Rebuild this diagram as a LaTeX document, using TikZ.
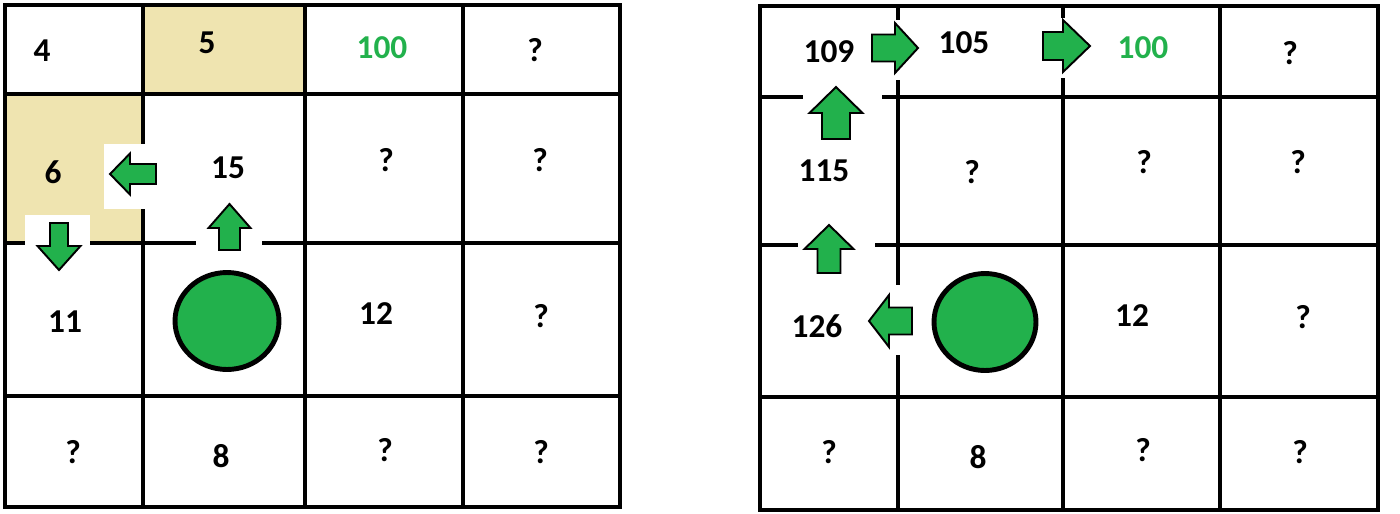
\documentclass[tikz,border=0pt]{standalone}
\usepackage{fontspec}
\setmainfont{Carlito}
\usetikzlibrary{positioning}
\definecolor{agentgreen}{RGB}{34,177,76}
\definecolor{visited}{RGB}{239,228,176}

\tikzset{
  gridline/.style={line width=2.8pt, line cap=rect},
  val/.style={font=\fontsize{19}{22}\selectfont\bfseries, inner sep=0pt},
  goal/.style={val, text=agentgreen},
  gap/.style={fill=white},
  agent/.style={fill=agentgreen, draw=black, line width=2.8pt},
  pics/moveto/.style n args={4}{code={
    \draw[fill=agentgreen, line width=1.1pt, line join=miter]
      (0,{-#2/2}) -- ({#1-#4},{-#2/2}) -- ({#1-#4},{-#3/2}) -- (#1,0)
      -- ({#1-#4},{#3/2}) -- ({#1-#4},{#2/2}) -- (0,{#2/2}) -- cycle;
  }}
}

\begin{document}
\begin{tikzpicture}[x=0.02cm, y=-0.02cm]
    \useasboundingbox (0,0) rectangle (1400,514);

    % left grid
    \fill[visited] (143,5) rectangle (305,94);
    \fill[visited] (5,94) rectangle (143,243);
    \foreach \x in {5,143,305,463,620}
        \draw[gridline] (\x,5) -- (\x,507);
    \foreach \y in {5,94,243,396,507}
        \draw[gridline] (5,\y) -- (620,\y);
    \fill[gap] (104,144) rectangle (146,209);
    \fill[gap] (25,215) rectangle (90,247);
    \fill[gap] (196,239) rectangle (262,248);

    \pic[rotate=90] (lup) at (229.5,250) {moveto={46}{21}{42}{24}};
    \pic[rotate=180] (lleft) at (156,174) {moveto={46}{20}{41}{20}};
    \pic[rotate=-90] (ldown) at (59,223) {moveto={47}{18}{43}{24}};
    \draw[agent] (227,321) ellipse [x radius=1.04cm, y radius=0.97cm];

    \node[val] (l4) at (42,51) {4};
    \node[val] (l5) at (207,43) {5};
    \node[goal] (lgoal) at (382,48) {100};
    \node[val] (lq03) at (535,50) {?};
    \node[val] (l6) at (53,172) {6};
    \node[val] (l15) at (228,168) {15};
    \node[val] (lq12) at (386,160) {?};
    \node[val] (lq13) at (540,160) {?};
    \node[val] (l11) at (65,322) {11};
    \node[val] (l12) at (376,314) {12};
    \node[val] (lq23) at (541,316) {?};
    \node[val] (lq30) at (73,452) {?};
    \node[val] (l8) at (221,456) {8};
    \node[val] (lq32) at (385,450) {?};
    \node[val] (lq33) at (541,452) {?};

    % right grid
    \foreach \x in {760,898,1063,1220,1378}
        \draw[gridline] (\x,6) -- (\x,510);
    \foreach \y in {6,97,245,397,510}
        \draw[gridline] (760,\y) -- (1378,\y);
    \fill[gap] (895,20) rectangle (901,80);
    \fill[gap] (1060,18) rectangle (1066,78);
    \fill[gap] (803,93) rectangle (882,101);
    \fill[gap] (798,241) rectangle (875,249);
    \fill[gap] (895,285) rectangle (901,355);

    \pic (rright1) at (872,48) {moveto={46}{27}{50}{23}};
    \pic (rright2) at (1043,46) {moveto={47}{28}{52}{27}};
    \pic[rotate=90] (rup1) at (836,139) {moveto={52}{28}{53}{26}};
    \pic[rotate=90] (rup2) at (829,273) {moveto={48}{23}{49}{24}};
    \pic[rotate=180] (rleft) at (912,321) {moveto={43}{27}{52}{20}};
    \draw[agent] (985,322) ellipse [x radius=1.02cm, y radius=0.97cm];

    \node[val] (r109) at (829,52) {109};
    \node[val] (r105) at (964,43) {105};
    \node[goal] (rgoal) at (1143,48) {100};
    \node[val] (rq03) at (1290,53) {?};
    \node[val] (r115) at (824,171) {115};
    \node[val] (rq11) at (972,172) {?};
    \node[val] (rq12) at (1144,162) {?};
    \node[val] (rq13) at (1298,162) {?};
    \node[val] (r126) at (817,326) {126};
    \node[val] (r12) at (1132,316) {12};
    \node[val] (rq23) at (1303,317) {?};
    \node[val] (rq30) at (829,452) {?};
    \node[val] (r8) at (978,457) {8};
    \node[val] (rq32) at (1143,450) {?};
    \node[val] (rq33) at (1300,452) {?};
\end{tikzpicture}
\end{document}
